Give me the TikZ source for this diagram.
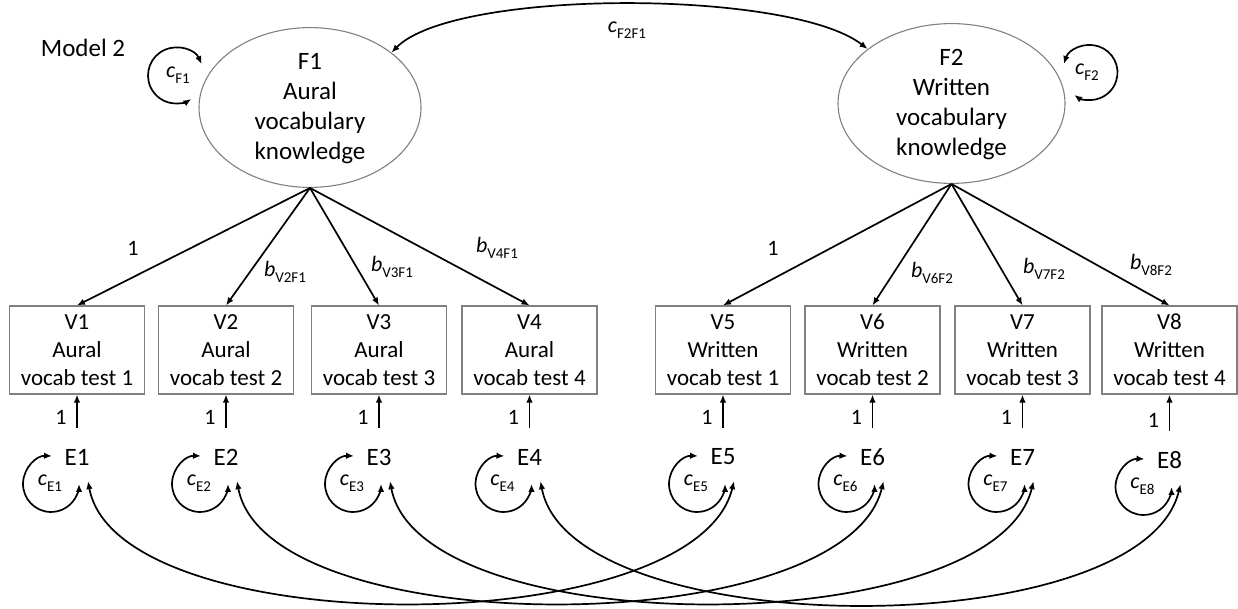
\documentclass[tikz,border=0pt]{standalone}
\usepackage{fontspec}
\setmainfont{Carlito}
\usetikzlibrary{arrows.meta,shapes.geometric,calc}
% italic parameter letter with an upright, lowered subscript
\newcommand{\semlab}[2]{\textit{#1}\raisebox{-0.25em}{\fontsize{15}{15}\selectfont #2}}
% strut that lowers the first line of a factor label
\newcommand{\topstrut}{\rule{0pt}{18.7pt}}
\begin{document}
\begin{tikzpicture}[x=1pt,y=1pt,
  latent/.style={ellipse, draw=black!50, line width=1.1pt, minimum width=222pt,
    minimum height=143pt, inner sep=0pt, align=center, font=\fontsize{25}{30}\selectfont},
  manifest/.style={rectangle, draw=black!50, line width=1.1pt, minimum width=135pt,
    minimum height=88pt, inner sep=0pt, align=center, font=\fontsize{23}{28}\selectfont},
  resid/.style={inner sep=0pt, minimum height=48pt, font=\fontsize{25}{25}\selectfont},
  lbl/.style={inner sep=0pt, font=\fontsize{22}{22}\selectfont},
  conn/.style={-{Latex[length=8pt,width=6.5pt]}, line width=1.7pt},
  dbl/.style={{Latex[length=8pt,width=6.5pt]}-{Latex[length=8pt,width=6.5pt]}, line width=1.7pt},
]
\useasboundingbox (0,0) rectangle (1238,608);

\node[lbl, font=\fontsize{25}{25}\selectfont] (title) at (83,560) {Model 2};

% latent factors
\node[latent] (F1) at (310,500.5) {\topstrut F1\\Aural\\vocabulary\\knowledge};
\node[latent, minimum width=227pt] (F2) at (951.5,504.5) {\topstrut F2\\Written\\vocabulary\\knowledge};

% factor variances
\draw[dbl] ([shift={(-108.4,43.4)}]F1.center) arc[start angle=24, end angle=303, radius=28];
\node[lbl] (cF1) at (178,533) {\semlab{c}{F1}};
\draw[dbl] ([shift={(112.35,39.5)}]F2.center) arc[start angle=162, end angle=-125, radius=27.5];
\node[lbl] (cF2) at (1087,536) {\semlab{c}{F2}};

% factor covariance
\draw[dbl] (F2.147) .. controls +(-77,60) and +(63,64) .. (F1.34);
\node[lbl] (cF2F1) at (627,578) {\semlab{c}{F2F1}};

% observed tests and their residuals
\foreach \i/\x/\kind/\n/\ey in {1/77/Aural/1/151, 2/226/Aural/2/151, 3/379/Aural/3/151,
    4/529.5/Aural/4/151, 5/723/Written/1/151, 6/872.5/Written/2/151,
    7/1022.5/Written/3/151, 8/1169.5/Written/4/148} {
  \node[manifest] (V\i) at (\x,258) {V\i\\\kind\\vocab test \n};
  \node[resid] (E\i) at (\x,\ey) {E\i};
  \draw[conn, shorten <=5pt] (E\i) -- (V\i);
  \node[lbl] (one\i) at ($(E\i.north)+(-16,15)$) {1};
  \draw[dbl] ([shift={(-25,1)}]E\i.center) arc[start angle=88, end angle=360, radius=28];
  \node[lbl] (cE\i) at ([shift={(-27,-26)}]E\i.center) {\semlab{c}{E\i}};
}

% loadings
\foreach \v in {1,...,4} \draw[conn] (F1.south) -- (V\v.north);
\foreach \v in {5,...,8} \draw[conn] (F2.south) -- (V\v.north);
\node[lbl] (l1) at (133,360) {1};
\node[lbl] (l2) at (285,336) {\semlab{b}{V2F1}};
\node[lbl] (l3) at (392,341) {\semlab{b}{V3F1}};
\node[lbl] (l4) at (497,360) {\semlab{b}{V4F1}};
\node[lbl] (l5) at (773,360) {1};
\node[lbl] (l6) at (932,335) {\semlab{b}{V6F2}};
\node[lbl] (l7) at (1044,339) {\semlab{b}{V7F2}};
\node[lbl] (l8) at (1151,343) {\semlab{b}{V8F2}};

% residual covariances
\foreach \a/\b in {1/5,2/6,3/7,4/8}
  \draw[dbl] ([xshift=11]E\a.south) .. controls +(30,-162) and +(-39,-162) .. ([xshift=11]E\b.south);
\end{tikzpicture}
\end{document}
